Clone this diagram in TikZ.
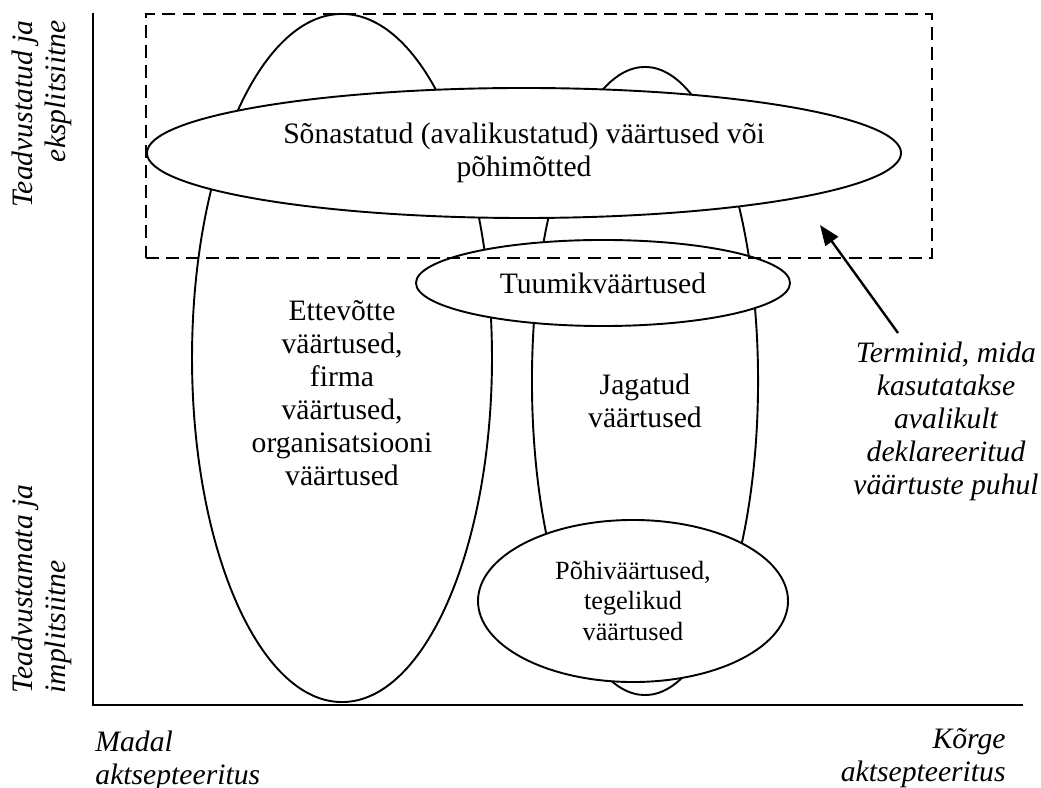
\documentclass[tikz,border=0pt]{standalone}
\usepackage{fontspec}
\setmainfont{Liberation Serif}
\usepackage{tikz}
\usetikzlibrary{positioning, shapes.geometric, arrows.meta}

\begin{document}
\begin{tikzpicture}[x=0.4184pt, y=-0.4184pt,
   every node/.style={font=\fontsize{12.4}{13.8}\selectfont, inner sep=0pt},
   oval/.style={ellipse, draw, fill=white, line width=0.8pt},
   axlabel/.style={font=\fontsize{12.4}{13.8}\selectfont\itshape},
   axis/.style={line width=1pt}]
\useasboundingbox (0,0) rectangle (1041,788);
\node[oval, minimum width=125.5pt, minimum height=287.9pt] (firm) at (342,358) {};
\node[oval, minimum width=94.6pt, minimum height=262.8pt] (shared) at (645,381) {};
\node[oval, minimum width=315.5pt, minimum height=54.4pt, align=center] (stated) at (524,153) {Sõnastatud (avalikustatud) väärtused või\\põhimõtted};
\node[oval, minimum width=156.5pt, minimum height=36pt] (core) at (603,283) {Tuumikväärtused};
\node[oval, minimum width=129.7pt, minimum height=67.8pt, align=center, font=\fontsize{11}{12.65}\selectfont] (basic) at (633,601) {Põhiväärtused,\\tegelikud\\väärtused};
\node[align=center] (firmtxt) at (342,393) {Ettevõtte\\väärtused,\\firma\\väärtused,\\organisatsiooni\\väärtused};
\node[align=center] (sharedtxt) at (645,401) {Jagatud\\väärtused};
\node[draw, dashed, dash pattern=on 5.4pt off 3pt, line width=0.8pt, minimum width=328.9pt, minimum height=102.1pt] (frame) at (539,136) {};
\coordinate (ytop) at (93,13);
\coordinate (origin) at (93,705);
\coordinate (xend) at (1023,705);
\draw[axis] (ytop) -- (origin) -- (xend);
\node[axlabel, rotate=90, align=right, anchor=north east] (upper) at (11,20) {Teadvustatud ja\\eksplitsiitne};
\node[axlabel, rotate=90, align=left, anchor=north west] (lower) at (11,694) {Teadvustamata ja\\implitsiitne};
\node[axlabel, align=left, anchor=north west] (low) at (95,730) {Madal\\aktsepteeritus};
\node[axlabel, align=right, anchor=north east] (high) at (1006,728) {Kõrge\\aktsepteeritus};
\node[axlabel, align=center] (terms) at (946,421) {Terminid, mida\\kasutatakse\\avalikult\\deklareeritud\\väärtuste puhul};
\coordinate (arrtail) at (898,333);
\coordinate (arrtip) at (820,225);
\draw[line width=1pt, -{Triangle[length=8.5pt, width=6.5pt]}] (arrtail) -- (arrtip);
\end{tikzpicture}
\end{document}
